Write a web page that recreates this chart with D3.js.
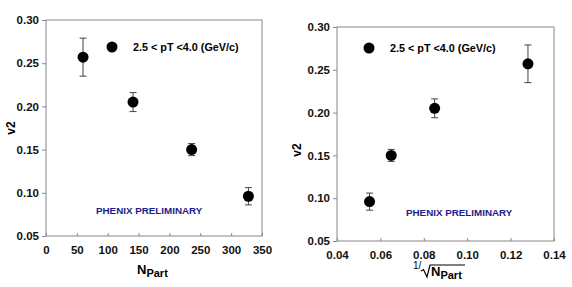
<!DOCTYPE html>
<html>
<head>
<meta charset="utf-8">
<script src="https://cdn.jsdelivr.net/npm/d3@7"></script>
<style>
  body { margin: 0; background: #fff; }
  text { font-family: "Liberation Sans", Arial, sans-serif; font-weight: bold; }
  .tick text { font-size: 11.5px; fill: #111; }
  .frame { fill: none; stroke: #888; stroke-width: 1; }
</style>
</head>
<body>
<div id="chart"></div>
<script>
// data
const nPart = [60, 141, 236, 328]
const invSqrtNPart = [0.128, 0.085, 0.065, 0.055]
const v2 = [0.257, 0.205, 0.150, 0.096]
const v2Err = [0.022, 0.011, 0.007, 0.010]

const yTicks = [0.05, 0.10, 0.15, 0.20, 0.25, 0.30]
const xTicksLeft = [0, 50, 100, 150, 200, 250, 300, 350]
const xTicksRight = [0.04, 0.06, 0.08, 0.10, 0.12, 0.14]

const legendText = "2.5 < pT <4.0 (GeV/c)"
const prelimText = "PHENIX PRELIMINARY"

const svg = d3.select("#chart")
  .append("svg")
  .attr("width", 572)
  .attr("height", 287)

function panel(opt) {
  const g = svg.append("g")

  const x = d3.scaleLinear().domain(opt.xDomain).range([opt.left, opt.right])
  const y = d3.scaleLinear().domain([0.05, 0.30]).range([opt.bottom, opt.top])

  // x axis, ticks pointing in
  g.append("g")
    .attr("transform", `translate(0,${opt.bottom})`)
    .call(d3.axisBottom(x).tickValues(opt.xTicks).tickFormat(opt.xFormat)
      .tickSizeInner(-3).tickSizeOuter(0).tickPadding(10))
    .call(a => a.select(".domain").remove())
    .call(a => a.selectAll("line").attr("stroke", "#888"))

  // y axis, ticks pointing out
  g.append("g")
    .attr("transform", `translate(${opt.left},0)`)
    .call(d3.axisLeft(y).tickValues(yTicks).tickFormat(d3.format(".2f"))
      .tickSizeInner(4).tickSizeOuter(0).tickPadding(3))
    .call(a => a.select(".domain").remove())
    .call(a => a.selectAll("line").attr("stroke", "#888"))

  g.append("rect")
    .attr("class", "frame")
    .attr("x", opt.left)
    .attr("y", opt.top)
    .attr("width", opt.right - opt.left)
    .attr("height", opt.bottom - opt.top)

  // error bars
  const pts = opt.xs.map((d, i) => ({x: d, y: v2[i], e: v2Err[i]}))
  const eb = g.append("g").selectAll("g").data(pts).join("g")
    .attr("stroke", "#444").attr("stroke-width", 1)
  eb.append("line")
    .attr("x1", d => x(d.x)).attr("x2", d => x(d.x))
    .attr("y1", d => y(d.y - d.e)).attr("y2", d => y(d.y + d.e))
  eb.append("line")
    .attr("x1", d => x(d.x) - 3.5).attr("x2", d => x(d.x) + 3.5)
    .attr("y1", d => y(d.y + d.e)).attr("y2", d => y(d.y + d.e))
  eb.append("line")
    .attr("x1", d => x(d.x) - 3.5).attr("x2", d => x(d.x) + 3.5)
    .attr("y1", d => y(d.y - d.e)).attr("y2", d => y(d.y - d.e))

  g.append("g").selectAll("circle").data(pts).join("circle")
    .attr("cx", d => x(d.x))
    .attr("cy", d => y(d.y))
    .attr("r", 5.5)
    .attr("fill", "#000")

  // legend
  g.append("circle")
    .attr("cx", opt.legX)
    .attr("cy", opt.legY)
    .attr("r", 5.5)
    .attr("fill", "#000")
  g.append("text")
    .attr("x", opt.legX + 21)
    .attr("y", opt.legY + 4)
    .style("font-size", "10.8px")
    .text(legendText)

  g.append("text")
    .attr("x", opt.prelimX)
    .attr("y", opt.prelimY)
    .style("font-size", "9.8px")
    .style("fill", "#1c1c8c")
    .text(prelimText)

  // y title
  g.append("text")
    .attr("transform", `translate(${opt.yTitleX},${opt.yTitleY}) rotate(-90)`)
    .attr("text-anchor", "middle")
    .style("font-size", "12px")
    .text("v2")

  return g
}

const left = panel({
  left: 46, right: 262, top: 20, bottom: 236,
  xDomain: [0, 350], xTicks: xTicksLeft, xFormat: d3.format("d"),
  xs: nPart,
  legX: 112, legY: 47,
  prelimX: 96, prelimY: 214,
  yTitleX: 15, yTitleY: 128
})

left.append("text")
  .attr("x", 137)
  .attr("y", 274)
  .style("font-size", "13px")
  .text("N")
  .append("tspan")
  .attr("dy", 3)
  .style("font-size", "11px")
  .text("Part")

const right = panel({
  left: 337, right: 554, top: 27, bottom: 241,
  xDomain: [0.04, 0.14], xTicks: xTicksRight, xFormat: d3.format(".2f"),
  xs: invSqrtNPart,
  legX: 369, legY: 48,
  prelimX: 406, prelimY: 216,
  yTitleX: 301, yTitleY: 150
})

// 1/sqrt(N_Part) label
right.append("text")
  .attr("x", 413)
  .attr("y", 269)
  .style("font-size", "10px")
  .style("font-weight", "normal")
  .text("1/")
right.append("path")
  .attr("d", "M421,271 L423.5,269.5 L427,277 L430,265 L465,265")
  .attr("fill", "none")
  .attr("stroke", "#000")
  .attr("stroke-width", 1.2)
right.append("text")
  .attr("x", 431)
  .attr("y", 276)
  .style("font-size", "13px")
  .text("N")
  .append("tspan")
  .attr("dy", 3)
  .style("font-size", "11px")
  .text("Part")
</script>
</body>
</html>
